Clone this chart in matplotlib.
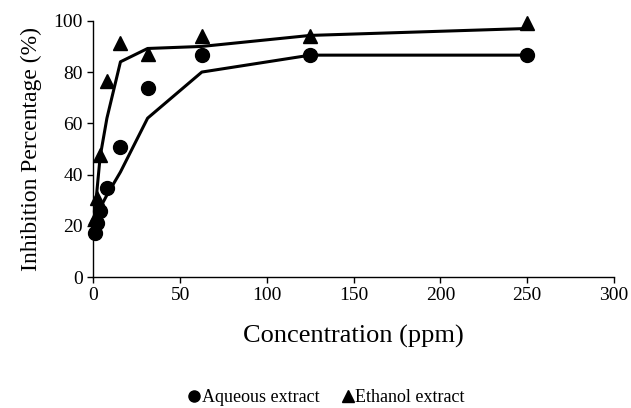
import matplotlib
matplotlib.use('Agg')
import matplotlib.pyplot as plt

# concentrations (ppm)
conc = [0.98, 1.95, 3.9, 7.8, 15.6, 31.25, 62.5, 125, 250]

# measured inhibition (%)
aqueous = [17.2, 21, 25.8, 34.7, 50.7, 73.7, 86.6, 86.6, 86.6]
ethanol = [23, 31, 47.5, 76.5, 91.5, 87, 94, 94, 99]

# fitted curves
aqueous_fit = [22, 24, 27, 32, 41, 62, 80, 86.6, 86.6]
ethanol_fit = [25, 33, 47, 62, 84, 89.2, 90, 94.3, 97]

plt.rcParams['font.family'] = ['Liberation Serif', 'DejaVu Serif']

fig = plt.figure(figsize=(6.31, 4.08), dpi=100)
ax = fig.add_axes([0.148, 0.321, 0.825, 0.628])

ax.plot(conc, aqueous_fit, color='black', lw=2.2, zorder=2)
ax.plot(conc, ethanol_fit, color='black', lw=2.2, zorder=2)
ax.plot(conc, aqueous, 'o', color='black', ms=10, label='Aqueous extract',
        zorder=3, clip_on=False)
ax.plot(conc, ethanol, '^', color='black', ms=10, label='Ethanol extract',
        zorder=3, clip_on=False)

ax.set_xlim(0, 300)
ax.set_ylim(0, 100)
ax.set_xticks(range(0, 301, 50))
ax.set_yticks(range(0, 101, 20))
ax.tick_params(labelsize=14, direction='out', length=4, width=1)
for side in ['top', 'right']:
    ax.spines[side].set_visible(False)
for side in ['left', 'bottom']:
    ax.spines[side].set_linewidth(1)

ax.set_xlabel('Concentration (ppm)', fontsize=19, labelpad=15)
ax.set_ylabel('Inhibition Percentage (%)', fontsize=17, labelpad=8)

fig.legend(loc='center', bbox_to_anchor=(0.518, 1 - 398 / 408), ncol=2, frameon=False,
           fontsize=13, markerscale=0.8, handlelength=0.6, handletextpad=0.1,
           columnspacing=1.3)

fig.savefig('out.png', dpi=100)
